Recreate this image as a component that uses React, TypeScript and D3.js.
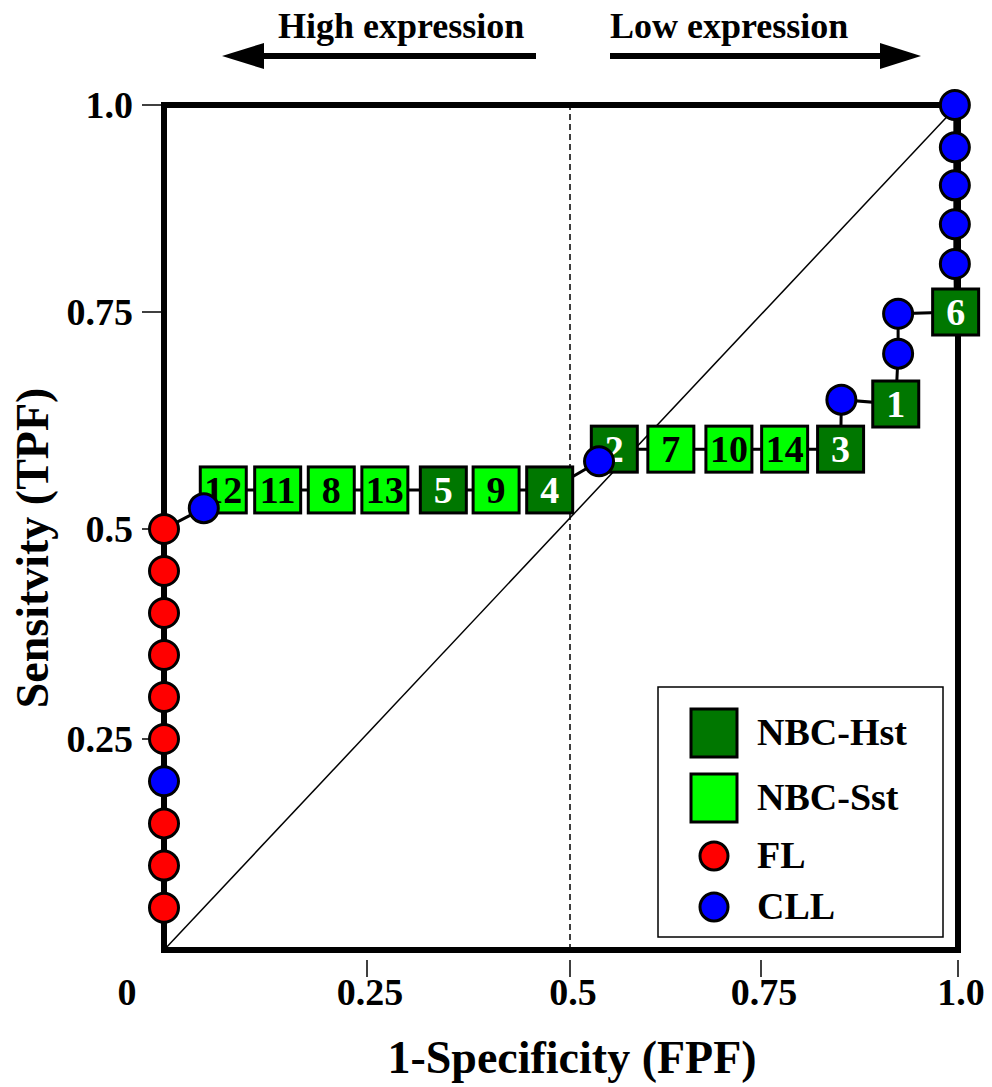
import React from 'react';
import * as d3 from 'd3';

// ROC path, in drawing order (FPF, TPF), with marker kind and square label
const pointFpf = [
  0, 0, 0, 0, 0, 0, 0, 0, 0, 0, 0,
  0.049, 0.073, 0.14, 0.206, 0.272, 0.344, 0.409, 0.475,
  0.538, 0.558, 0.632, 0.708, 0.78, 0.851,
  0.852, 0.921, 0.924, 0.924, 0.997,
  0.996, 0.996, 0.996, 0.996, 0.996,
];
const pointTpf = [
  0, 0.05, 0.1, 0.15, 0.2, 0.25, 0.3, 0.35, 0.4, 0.45, 0.5,
  0.524, 0.545, 0.545, 0.545, 0.545, 0.545, 0.545, 0.545,
  0.578, 0.592, 0.592, 0.592, 0.592, 0.592,
  0.649, 0.644, 0.702, 0.748, 0.75,
  0.808, 0.856, 0.903, 0.949, 1.0,
];
const pointKind = [
  'none', 'FL', 'FL', 'FL', 'CLL', 'FL', 'FL', 'FL', 'FL', 'FL', 'FL',
  'CLL', 'Sst', 'Sst', 'Sst', 'Sst', 'Hst', 'Sst', 'Hst',
  'CLL', 'Hst', 'Sst', 'Sst', 'Sst', 'Hst',
  'CLL', 'Hst', 'CLL', 'CLL', 'Hst',
  'CLL', 'CLL', 'CLL', 'CLL', 'CLL',
];
const pointLabel = [
  '', '', '', '', '', '', '', '', '', '', '',
  '', '12', '11', '8', '13', '5', '9', '4',
  '', '2', '7', '10', '14', '3',
  '', '1', '', '', '6',
  '', '', '', '', '',
];

const xTicks = [0.25, 0.5, 0.75, 1.0];
const xTickLabels = ['0.25', '0.5', '0.75', '1.0'];
const yTicks = [0.25, 0.5, 0.75, 1.0];
const yTickLabels = ['0.25', '0.5', '0.75', '1.0'];

const legendKinds = ['Hst', 'Sst', 'FL', 'CLL'];
const legendLabels = ['NBC-Hst', 'NBC-Sst', 'FL', 'CLL'];

const colors: Record<string, string> = {
  Hst: '#007700',
  Sst: '#00ff00',
  FL: '#ff0000',
  CLL: '#0000ff',
};

const FONT = '"Liberation Serif", "Times New Roman", serif';

export default function App() {
  const width = 992;
  const height = 1087;

  // hand-drawn figure: tick spacing is not quite even
  const x = d3.scaleLinear().domain([0, 0.25, 0.5, 0.75, 1]).range([164, 367, 570, 761, 958]);
  const y = d3.scaleLinear().domain([0, 0.25, 0.5, 0.75, 1]).range([950, 739, 529, 312, 105]);

  const pts = pointFpf.map((f, i) => ({ f, t: pointTpf[i], kind: pointKind[i], label: pointLabel[i] }));
  const line = d3.line<{ f: number; t: number }>().x(d => x(d.f)).y(d => y(d.t));

  const sq = 46;
  const r = 14.5;

  const legendY = [733, 798, 856, 907];

  return (
    <div style={{ position: 'absolute', left: 0, top: 0 }}>
      <svg width={width} height={height} style={{ display: 'block', background: '#fff' }} fontFamily={FONT} fontWeight="bold">
        {/* top arrows */}
        <text x={278} y={38} fontSize={36}>High expression</text>
        <line x1={262} x2={536} y1={56} y2={56} stroke="#000" strokeWidth={6} />
        <polygon points="222,56 264,43 264,69" fill="#000" />
        <text x={610} y={38} fontSize={36}>Low expression</text>
        <line x1={610} x2={882} y1={56} y2={56} stroke="#000" strokeWidth={6} />
        <polygon points="921,56 880,43 880,69" fill="#000" />

        {/* reference lines */}
        <line x1={x(0)} y1={y(0)} x2={x(1)} y2={y(1)} stroke="#000" strokeWidth={1.5} />
        <line x1={x(0.5)} x2={x(0.5)} y1={y(0)} y2={y(1)} stroke="#000" strokeWidth={1.5} strokeDasharray="6,4" />

        {/* frame */}
        <rect x={x(0)} y={y(1)} width={x(1) - x(0)} height={y(0) - y(1)} fill="none" stroke="#000" strokeWidth={6} />

        {/* y axis */}
        {yTicks.map((t, i) => (
          <g key={'y' + i}>
            <line x1={x(0) - 22} x2={x(0) - 3} y1={y(t)} y2={y(t)} stroke="#000" strokeWidth={1.5} />
            <text x={133} y={y(t) + 13} fontSize={38} textAnchor="end">{yTickLabels[i]}</text>
          </g>
        ))}
        {/* x axis */}
        {xTicks.map((t, i) => (
          <g key={'x' + i}>
            <line x1={x(t)} x2={x(t)} y1={y(0) + 10} y2={y(0) + 27} stroke="#000" strokeWidth={1.5} />
            <text x={x(t) + 3} y={1005} fontSize={38} textAnchor="middle">{xTickLabels[i]}</text>
          </g>
        ))}
        <text x={x(0) - 37} y={1005} fontSize={38} textAnchor="middle">0</text>

        <text x={572} y={1073} fontSize={46} textAnchor="middle">1-Specificity (FPF)</text>
        <text transform="translate(48,548) rotate(-90)" fontSize={46} textAnchor="middle">Sensitvity (TPF)</text>

        {/* ROC path */}
        <path d={line(pts) || ''} fill="none" stroke="#000" strokeWidth={3} />

        {pts.filter(p => p.kind === 'Hst' || p.kind === 'Sst').map((p, i) => (
          <g key={'s' + i}>
            <rect x={x(p.f) - sq / 2} y={y(p.t) - sq / 2} width={sq} height={sq}
              fill={colors[p.kind]} stroke="#000" strokeWidth={3} />
            <text x={x(p.f)} y={y(p.t) + 13} fontSize={38} textAnchor="middle"
              fill={p.kind === 'Hst' ? '#fff' : '#000'}>{p.label}</text>
          </g>
        ))}
        {pts.filter(p => p.kind === 'FL' || p.kind === 'CLL').map((p, i) => (
          <circle key={'c' + i} cx={x(p.f)} cy={y(p.t)} r={r} fill={colors[p.kind]} stroke="#000" strokeWidth={3} />
        ))}

        {/* legend */}
        <rect x={658} y={687} width={285} height={250} fill="#fff" stroke="#000" strokeWidth={1.5} />
        {legendKinds.map((k, i) => (
          <g key={'l' + i}>
            {k === 'Hst' || k === 'Sst'
              ? <rect x={691} y={legendY[i] - 24} width={46} height={48} fill={colors[k]} stroke="#000" strokeWidth={3} />
              : <circle cx={714} cy={legendY[i]} r={14} fill={colors[k]} stroke="#000" strokeWidth={3} />}
            <text x={757} y={legendY[i] + 12} fontSize={38}>{legendLabels[i]}</text>
          </g>
        ))}
      </svg>
    </div>
  );
}
